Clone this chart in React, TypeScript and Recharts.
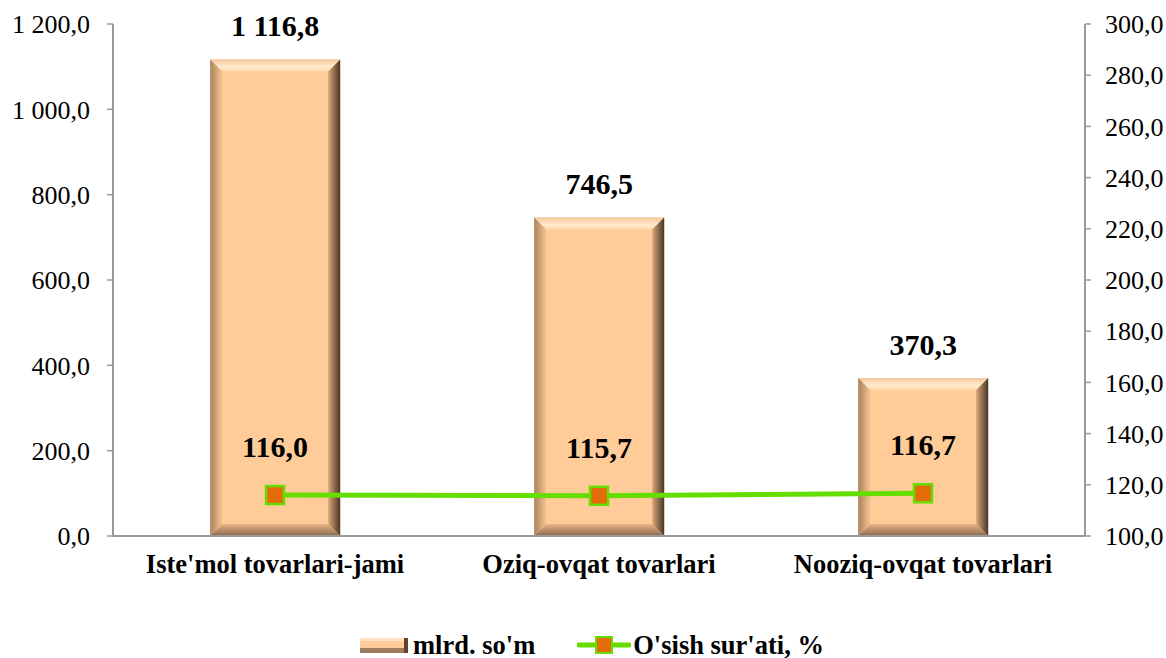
import React from "react";
import {
    ComposedChart,
    Bar,
    Line,
    XAxis,
    YAxis,
    Legend,
    LabelList,
} from "recharts";

const categories = ["Iste'mol tovarlari-jami", "Oziq-ovqat tovarlari", "Nooziq-ovqat tovarlari"];
const volume = [1116.8, 746.5, 370.3];
const growth = [116.0, 115.7, 116.7];
const leftTicks = [0, 200, 400, 600, 800, 1000, 1200];
const rightTicks = [100, 120, 140, 160, 180, 200, 220, 240, 260, 280, 300];

const data = categories.map((name, i) => ({ name, volume: volume[i], growth: growth[i] }));

const FONT = "Liberation Serif, Times New Roman, serif";

// 1116.8 -> "1 116,8"
const fmt = (v: number) => {
    const [int, dec] = Number(v).toFixed(1).split(".");
    return int.replace(/\B(?=(\d{3})+(?!\d))/g, " ") + "," + dec;
};

const BevelBar = (props: any) => {
    const { x, y, width, height } = props;
    if (!width || !height) return null;
    const b = Math.min(12, width / 4, height / 4);
    const x2 = x + width;
    const y2 = y + height;
    return (
        <g>
            <rect x={x} y={y} width={width} height={height} fill="#FFCC99" />
            <polygon points={`${x},${y} ${x2},${y} ${x2 - b},${y + b} ${x + b},${y + b}`} fill="url(#bevTop)" />
            <polygon points={`${x},${y} ${x + b},${y + b} ${x + b},${y2 - b} ${x},${y2}`} fill="url(#bevLeft)" />
            <polygon points={`${x2},${y} ${x2},${y2} ${x2 - b},${y2 - b} ${x2 - b},${y + b}`} fill="url(#bevRight)" />
            <polygon points={`${x},${y2} ${x + b},${y2 - b} ${x2 - b},${y2 - b} ${x2},${y2}`} fill="url(#bevBottom)" />
        </g>
    );
};

const SquareDot = (props: any) => {
    const { cx, cy } = props;
    if (cx == null || cy == null) return null;
    return <rect x={cx - 9} y={cy - 9} width={18} height={18} fill="#E36C09" stroke="#66DD00" strokeWidth={2.5} />;
};

const LegendContent = () => (
    <div style={{ display: "flex", justifyContent: "center", alignItems: "center", fontFamily: FONT, fontWeight: "bold", fontSize: 26.5, height: 26, lineHeight: "26px", paddingLeft: 18 }}>
        <svg width={48} height={15} style={{ marginRight: 5 }}>
            <rect x={0} y={0} width={48} height={15} fill="#FFCC99" />
            <rect x={0} y={0} width={48} height={3} fill="#FFE3C2" />
            <rect x={0} y={10} width={48} height={5} fill="#9C7B5E" />
            <rect x={44} y={0} width={4} height={15} fill="#5E4330" />
        </svg>
        <span style={{ marginRight: 42 }}>mlrd. so'm</span>
        <svg width={54} height={18} style={{ marginRight: 2 }}>
            <line x1={2} y1={9} x2={52} y2={9} stroke="#66DD00" strokeWidth={5} strokeLinecap="round" />
            <rect x={19} y={1} width={16} height={16} fill="#E36C09" stroke="#66DD00" strokeWidth={2} />
        </svg>
        <span>O'sish sur'ati, %</span>
    </div>
);

export default function App() {
    return (
        <div style={{ position: "absolute", left: 0, top: 0, background: "#fff" }}>
            <ComposedChart
                width={1166}
                height={658}
                data={data}
                margin={{ top: 24, right: 8, bottom: 0, left: 8 }}
                barCategoryGap="30%"
            >
                <defs>
                    <linearGradient id="bevTop" x1="0" y1="0" x2="0" y2="1">
                        <stop offset="0%" stopColor="#F5C79C" />
                        <stop offset="60%" stopColor="#FFEBCC" />
                        <stop offset="100%" stopColor="#FFD8AE" />
                    </linearGradient>
                    <linearGradient id="bevLeft" x1="0" y1="0" x2="1" y2="0">
                        <stop offset="0%" stopColor="#A8845F" />
                        <stop offset="100%" stopColor="#F6C392" />
                    </linearGradient>
                    <linearGradient id="bevRight" x1="0" y1="0" x2="1" y2="0">
                        <stop offset="0%" stopColor="#D9A779" />
                        <stop offset="100%" stopColor="#4A3526" />
                    </linearGradient>
                    <linearGradient id="bevBottom" x1="0" y1="0" x2="0" y2="1">
                        <stop offset="0%" stopColor="#E8B485" />
                        <stop offset="100%" stopColor="#8A6A4F" />
                    </linearGradient>
                </defs>
                <XAxis
                    dataKey="name"
                    height={96}
                    axisLine={{ stroke: "#999", strokeWidth: 2 }}
                    tickLine={false}
                    tick={{ fontFamily: FONT, fontSize: 26.5, fontWeight: "bold", fill: "#000" }}
                    tickMargin={12}
                    interval={0}
                />
                <YAxis
                    yAxisId="left"
                    width={105}
                    domain={[0, 1200]}
                    ticks={leftTicks}
                    tickFormatter={fmt}
                    axisLine={{ stroke: "#999", strokeWidth: 2 }}
                    tickLine={{ stroke: "#999", strokeWidth: 1.5 }}
                    tickSize={6}
                    tickMargin={17}
                    tick={{ fontFamily: FONT, fontSize: 26, fill: "#000" }}
                />
                <YAxis
                    yAxisId="right"
                    orientation="right"
                    width={73}
                    domain={[100, 300]}
                    ticks={rightTicks}
                    tickFormatter={fmt}
                    axisLine={{ stroke: "#999", strokeWidth: 2 }}
                    tickLine={{ stroke: "#999", strokeWidth: 1.5 }}
                    tickSize={6}
                    tickMargin={14}
                    tick={{ fontFamily: FONT, fontSize: 26, fill: "#000" }}
                />
                <Bar yAxisId="left" dataKey="volume" name="mlrd. so'm" shape={<BevelBar />} isAnimationActive={false}>
                    <LabelList
                        dataKey="volume"
                        position="top"
                        offset={23}
                        formatter={fmt}
                        style={{ fontFamily: FONT, fontSize: 30, fontWeight: "bold", fill: "#000" }}
                    />
                </Bar>
                <Line
                    yAxisId="right"
                    dataKey="growth"
                    name="O'sish sur'ati, %"
                    stroke="#66DD00"
                    strokeWidth={5}
                    dot={<SquareDot />}
                    activeDot={false}
                    isAnimationActive={false}
                >
                    <LabelList
                        dataKey="growth"
                        position="top"
                        offset={38}
                        formatter={fmt}
                        style={{ fontFamily: FONT, fontSize: 30, fontWeight: "bold", fill: "#000" }}
                    />
                </Line>
                <Legend verticalAlign="bottom" content={<LegendContent />} />
            </ComposedChart>
        </div>
    );
}
